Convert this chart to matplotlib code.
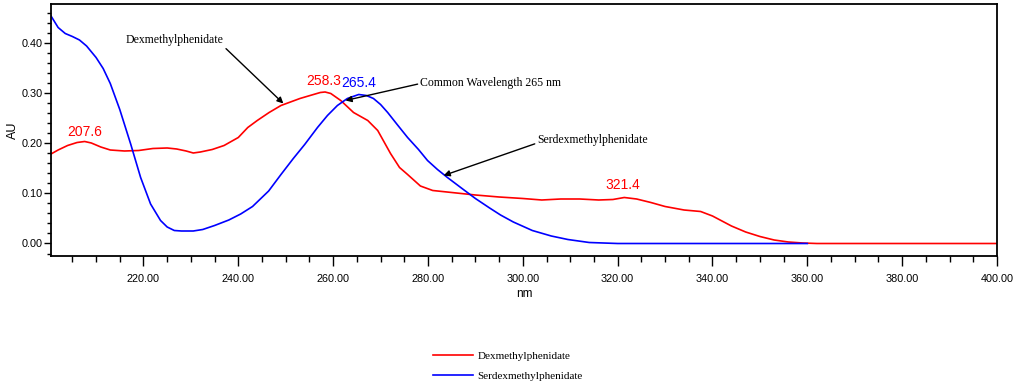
import matplotlib
matplotlib.use("Agg")
import matplotlib.pyplot as plt
from matplotlib.ticker import MultipleLocator, FormatStrFormatter

# Dexmethylphenidate spectrum (red)
dex_nm = [200.5, 202, 204, 206, 207.6, 209, 211, 213, 216, 219, 222, 225, 227, 229, 230.5,
          232, 234.5, 237, 240, 242, 244, 246.5, 249, 253, 255.5, 257.3, 258.3, 259.5,
          261.6, 264.3, 267.3, 269.4, 272.1, 274, 275.7, 278.4, 281, 285, 290, 295, 300,
          304, 308, 312, 316, 319, 321.4, 324, 327, 330, 334, 337.5, 340, 342, 344, 347,
          350, 353, 356, 359, 362, 400]
dex_au = [0.179, 0.187, 0.196, 0.202, 0.204, 0.201, 0.193, 0.187, 0.185, 0.186, 0.190, 0.191,
          0.189, 0.185, 0.181, 0.183, 0.188, 0.196, 0.212, 0.232, 0.246, 0.262, 0.276, 0.290,
          0.297, 0.302, 0.303, 0.300, 0.286, 0.262, 0.246, 0.226, 0.180, 0.152, 0.138, 0.115,
          0.106, 0.102, 0.097, 0.093, 0.090, 0.087, 0.089, 0.089, 0.087, 0.088, 0.092, 0.089,
          0.082, 0.074, 0.067, 0.064, 0.055, 0.045, 0.035, 0.023, 0.014, 0.007, 0.003, 0.001,
          0.0, 0.0]

# Serdexmethylphenidate spectrum (blue)
serdex_nm = [200.5, 202, 203.5, 205, 206.5, 208, 210, 211.5, 213, 215, 217.3, 219.4, 221.5,
             223.6, 225, 226.5, 228, 230.5, 232.5, 235, 238, 240.5, 243, 246.4, 249, 251.6,
             254, 256.7, 258.8, 260.9, 263, 265.4, 267, 268.5, 270, 271.5, 273.5, 275.7, 278,
             279.9, 282, 284.1, 286.9, 290, 293, 295.3, 298, 302, 306, 309.5, 314, 320, 360]
serdex_au = [0.455, 0.432, 0.420, 0.414, 0.407, 0.395, 0.372, 0.350, 0.320, 0.268, 0.199,
             0.132, 0.079, 0.046, 0.033, 0.026, 0.025, 0.025, 0.028, 0.036, 0.047, 0.059,
             0.074, 0.105, 0.138, 0.170, 0.198, 0.232, 0.256, 0.276, 0.290, 0.298, 0.296,
             0.290, 0.278, 0.262, 0.238, 0.212, 0.188, 0.166, 0.148, 0.132, 0.112, 0.090,
             0.071, 0.057, 0.043, 0.026, 0.015, 0.008, 0.002, 0.0, 0.0]

peak_labels = [("207.6", 207.5, 0.222, "red"), ("258.3", 258.0, 0.324, "red"),
               ("265.4", 265.3, 0.320, "blue"), ("321.4", 321.1, 0.116, "red")]

serif = "Liberation Serif"
sans = "Liberation Sans"

fig = plt.figure(figsize=(10.16, 3.87), dpi=100)
ax = fig.add_axes([0.0502, 0.3385, 0.9311, 0.6512])

ax.plot(dex_nm, dex_au, color="red", lw=1.2, label="Dexmethylphenidate")
ax.plot(serdex_nm, serdex_au, color="blue", lw=1.2, label="Serdexmethylphenidate")

for txt, x, y, c in peak_labels:
    ax.text(x, y, txt, color=c, fontsize=10, family=sans, ha="center", va="center")

arrow = dict(arrowstyle="-|>", color="black", lw=1, mutation_scale=9, shrinkA=0, shrinkB=0)
ax.annotate("Dexmethylphenidate", xy=(249.5, 0.280), xytext=(226.5, 0.407),
            fontsize=8.5, family=serif, ha="center", va="center",
            arrowprops=dict(arrow, relpos=(1, 0)))
ax.annotate("Common Wavelength 265 nm", xy=(262.6, 0.286), xytext=(278.4, 0.320),
            fontsize=8.5, family=serif, ha="left", va="center",
            arrowprops=dict(arrow, relpos=(0, 0.5)))
ax.annotate("Serdexmethylphenidate", xy=(283.3, 0.136), xytext=(303.1, 0.206),
            fontsize=8.5, family=serif, ha="left", va="center",
            arrowprops=dict(arrow, relpos=(0, 0.3)))

ax.set_xlim(200.5, 400)
ax.set_ylim(-0.025, 0.479)
ax.xaxis.set_minor_locator(MultipleLocator(5))
ax.yaxis.set_minor_locator(MultipleLocator(0.02))
ax.set_xticks([220, 240, 260, 280, 300, 320, 340, 360, 380, 400])
ax.set_yticks([0.0, 0.1, 0.2, 0.3, 0.4])
ax.xaxis.set_major_formatter(FormatStrFormatter("%.2f"))
ax.yaxis.set_major_formatter(FormatStrFormatter("%.2f"))
ax.tick_params(axis="x", which="major", length=7, width=1, labelsize=7.8, pad=6)
ax.tick_params(axis="x", which="minor", length=4, width=1)
ax.tick_params(axis="y", which="major", length=5, width=1, labelsize=7.8, pad=1)
ax.tick_params(axis="y", which="minor", length=3, width=1)
for lab in ax.get_xticklabels() + ax.get_yticklabels():
    lab.set_family(sans)
for s in ax.spines.values():
    s.set_linewidth(1.3)

ax.set_xlabel("nm", fontsize=8.5, family=sans, labelpad=3)
ax.set_ylabel("AU", fontsize=9, family=sans, labelpad=2)

fig.legend(loc="center", bbox_to_anchor=(0.50, 0.054), frameon=False,
           prop={"family": serif, "size": 8}, handlelength=3.6, handletextpad=0.4,
           labelspacing=0.9, borderpad=0)

fig.savefig("out.png", dpi=100)
